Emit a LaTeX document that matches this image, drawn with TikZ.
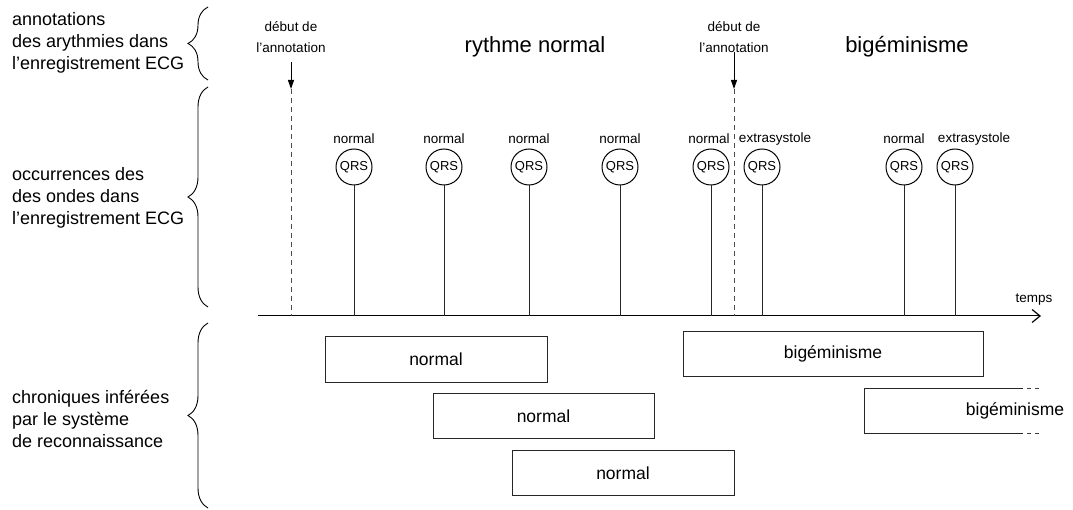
\documentclass[tikz,border=0pt]{standalone}
\usepackage{fontspec}
\setmainfont{Liberation Sans}
\usetikzlibrary{arrows.meta,decorations.pathreplacing}
\begin{document}
\begin{tikzpicture}[x=1pt,y=-1pt,
  lbl/.style={font=\fontsize{13.5}{21}\selectfont, inner sep=0pt},
  side/.style={font=\fontsize{18}{22}\selectfont, align=left, anchor=west, inner sep=0pt},
  big/.style={font=\fontsize{22}{26}\selectfont, inner sep=0pt},
  qrs/.style={circle, draw=black, line width=1pt, minimum size=36pt, inner sep=0pt, font=\fontsize{13}{15}\selectfont},
  stem/.style={draw=black!85, line width=1pt},
  chron/.style={draw=black!85, line width=1pt, rectangle, minimum height=45pt, inner sep=0pt, font=\fontsize{17.5}{20}\selectfont},
  dashline/.style={draw=black!70, line width=1pt, dash pattern=on 5pt off 4pt},
  opendash/.style={draw=black!75, line width=1pt, dash pattern=on 4pt off 4pt, dash phase=4pt},
  bracestyle/.style={draw=black, line width=0.9pt, decorate, decoration={brace, amplitude=20pt}}
]
\useasboundingbox (0,0) rectangle (1073,510);

% left labels
\node[side] (t1) at (12,43) {annotations\\des arythmies dans\\l’enregistrement ECG};
\node[side] (t2) at (12,198) {occurrences des\\des ondes dans\\l’enregistrement ECG};
\node[side] (t3) at (12,419) {chroniques inférées\\par le système\\de reconnaissance};

% braces
\coordinate (b1a) at (208,80);  \coordinate (b1b) at (208,7);
\coordinate (b2a) at (208,307); \coordinate (b2b) at (208,87);
\coordinate (b3a) at (208,508); \coordinate (b3b) at (208,323);
\draw[bracestyle] (b1a) -- (b1b);
\draw[bracestyle] (b2a) -- (b2b);
\draw[bracestyle] (b3a) -- (b3b);

% rhythm annotations
\node[big] (rn) at (535,47) {rythme normal};
\node[big] (bg) at (907,47) {bigéminisme};

\node[lbl, align=center] (deb1) at (291,37) {début de\\l’annotation};
\node[lbl, align=center] (deb2) at (734,37) {début de\\l’annotation};

% time axis
\coordinate (ax0) at (258,316);
\coordinate (ax1) at (1041,316);
\draw[line width=1pt, -{Straight Barb[length=8pt,width=13pt,line width=1.2pt]}] (ax0) -- (ax1);
\node[lbl] (tps) at (1034,300) {temps};

% annotation start markers
\coordinate (a1s) at (291,62); \coordinate (a1e) at (291,89); \coordinate (a1b) at (291,316);
\coordinate (a2s) at (734,52); \coordinate (a2e) at (734,89); \coordinate (a2b) at (734,316);
\draw[line width=1pt, -{Triangle[length=9pt,width=6pt]}] (a1s) -- (a1e);
\draw[line width=1pt, -{Triangle[length=9pt,width=6pt]}] (a2s) -- (a2e);
\draw[dashline] (a1e) -- (a1b);
\draw[dashline] (a2e) -- (a2b);

% QRS occurrences
\foreach \n/\x/\lab/\lx in {1/354/normal/354, 2/444/normal/444, 3/529/normal/529, 4/620/normal/620,
                           5/711/normal/709, 6/762/extrasystole/775, 7/904/normal/904, 8/955/extrasystole/974}{
  \node[qrs] (q\n) at (\x,167) {QRS};
  \node[lbl] (l\n) at (\lx,139) {\lab};
  \draw[stem] (q\n.south) -- (q\n.south |- ax0);
}

% inferred chronicles
\node[chron, minimum width=222pt] (c1) at (436,359.5) {normal};
\node[chron, minimum width=221pt] (c2) at (543.5,416) {normal};
\node[chron, minimum width=222pt] (c3) at (623,473) {normal};
\node[chron, minimum width=300pt] (c4) at (833,354) {bigéminisme};

% open-ended chronicle
\coordinate (o1) at (1023,388);
\coordinate (o2) at (864,388);
\coordinate (o3) at (864,433);
\coordinate (o4) at (1023,433);
\coordinate (o1x) at (1042,388);
\coordinate (o4x) at (1042,433);
\draw[draw=black!85, line width=1pt] (o1) -- (o2) -- (o3) -- (o4);
\draw[opendash] (o1) -- (o1x);
\draw[opendash] (o4) -- (o4x);
\node[inner sep=0pt, font=\fontsize{17.5}{20}\selectfont] (c5) at (1015,411) {bigéminisme};
\end{tikzpicture}
\end{document}
